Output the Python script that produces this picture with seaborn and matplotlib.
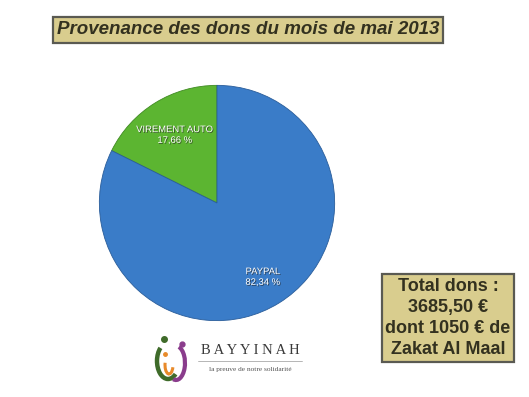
import matplotlib
matplotlib.use("Agg")
import matplotlib.pyplot as plt
import matplotlib.patheffects as pe
from matplotlib.patches import Arc
import numpy as np
import seaborn as sns

# data
sources = ["Virement Auto", "Paypal"]
parts = [17.66, 82.34]
pct_labels = ["17,66 %", "82,34 %"]
colors = ["#5cb531", "#3a7cc8"]

title = "Provenance des dons du mois de mai 2013"
total_lines = ["Total dons :", "3685,50 €", "dont 1050 € de", "Zakat Al Maal"]

sns.set_theme(style="white")
plt.rcParams['font.family'] = ['Liberation Sans', 'DejaVu Sans']

fig = plt.figure(figsize=(5.29, 3.97), dpi=100)
fig.patch.set_facecolor("white")

# pie
ax = fig.add_axes([97 / 529, 74 / 397, 240 / 529, 240 / 397])
wedges, _ = ax.pie(parts, colors=colors, startangle=90, counterclock=True,
                   wedgeprops=dict(linewidth=0.6, edgecolor="#2a5d9a"))
wedges[0].set_edgecolor("#3f8a22")
ax.set_xlim(-1.02, 1.02)
ax.set_ylim(-1.02, 1.02)
ax.set_aspect("equal")
ax.axis("off")

for w, name, pct, dist in zip(wedges, sources, pct_labels, [0.68, 0.74]):
    mid = np.deg2rad((w.theta1 + w.theta2) / 2)
    ax.text(dist * np.cos(mid), dist * np.sin(mid), name.upper() + "\n" + pct,
            ha="center", va="center", color="white", fontsize=6.8,
            linespacing=1.25,
            path_effects=[pe.withSimplePatchShadow(offset=(0.6, -0.6), shadow_rgbFace="#222222", alpha=0.7)])

# title box
fig.text(248 / 529, 1 - 30 / 397, title, ha="center", va="center",
         fontsize=13.5, fontweight="bold", fontstyle="italic", color="#33311f",
         bbox=dict(boxstyle="square,pad=0.22", facecolor="#d9cd8e",
                   edgecolor="#5a5a52", linewidth=1.6))

# total box
fig.text(448 / 529, 1 - 318 / 397, "\n".join(total_lines), ha="center", va="center",
         fontsize=13, fontweight="bold", color="#33311f", linespacing=1.32,
         bbox=dict(boxstyle="square,pad=0.2", facecolor="#d9cd8e",
                   edgecolor="#5a5a52", linewidth=1.6))

# logo
fig.text(250 / 529, 1 - 351 / 397, "B A Y Y I N A H", ha="center", va="center",
         fontsize=10.5, family=["Liberation Serif", "DejaVu Serif"], color="#3a3a3a")
fig.add_artist(plt.Line2D([198 / 529, 302 / 529], [1 - 361 / 397, 1 - 361 / 397],
                          color="#aaaaaa", linewidth=0.6))
fig.text(250 / 529, 1 - 370 / 397, "la preuve de notre solidarité", ha="center",
         va="center", fontsize=5.3, family=["Liberation Serif", "DejaVu Serif"],
         color="#555555")

lax = fig.add_axes([152 / 529, 12 / 397, 40 / 529, 52 / 397])
lax.set_xlim(0, 40)
lax.set_ylim(0, 52)
lax.axis("off")
lax.add_patch(Arc((16, 24), 22, 36, theta1=120, theta2=300, color="#3f6b2a", linewidth=3.2))
lax.add_patch(Arc((24, 22), 18, 34, theta1=-100, theta2=80, color="#8a3c8c", linewidth=3))
lax.add_patch(Arc((17, 20), 8, 18, theta1=150, theta2=330, color="#e88a2a", linewidth=2.2))
lax.plot([12], [46], "o", color="#3f6b2a", markersize=4)
lax.plot([30], [41], "o", color="#8a3c8c", markersize=3.5)
lax.plot([13], [31], "o", color="#e88a2a", markersize=2.5)

fig.savefig("out.png", dpi=100, facecolor="white")
